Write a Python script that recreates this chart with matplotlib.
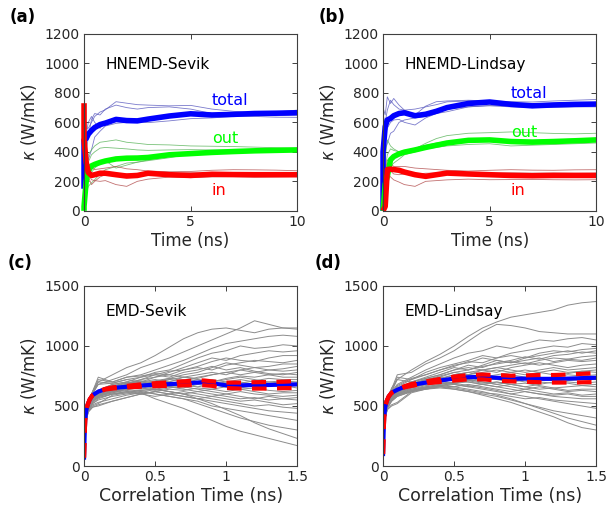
import matplotlib
matplotlib.use("Agg")
import matplotlib.pyplot as plt

plt.rcParams['font.family'] = ['DejaVu Sans']

# ---------------- HNEMD data (time in ns, kappa in W/mK) ----------------
# the repeated 0 gives the vertical jump right at the start
t_h = [0, 0, 0.1, 0.2, 0.35, 0.5, 0.75, 1.0, 1.5, 2.0, 2.5, 3.0, 4.0, 5.0, 6.0, 7.0, 8.0, 9.0, 10.0]

# (a) HNEMD-Sevik, averages
sevik_total = [150, 480, 490, 520, 545, 565, 585, 595, 620, 612, 610, 622, 643, 658, 650, 654, 660, 662, 665]
sevik_out = [0, 30, 200, 270, 305, 315, 328, 338, 352, 357, 358, 362, 380, 388, 396, 402, 407, 410, 413]
sevik_in = [730, 480, 330, 260, 240, 245, 255, 255, 245, 236, 240, 255, 245, 240, 248, 246, 245, 245, 245]

# (a) individual runs
sevik_total_runs = [
    [950, 700, 560, 560, 600, 640, 670, 685, 740, 730, 720, 717, 712, 715, 690, 675, 665, 670, 683],
    [600, 480, 400, 500, 620, 660, 650, 690, 717, 700, 690, 700, 705, 690, 660, 650, 648, 645, 650],
    [350, 450, 460, 346, 414, 500, 540, 575, 593, 600, 605, 598, 610, 625, 630, 640, 640, 635, 634],
    [500, 550, 520, 600, 640, 600, 560, 600, 615, 610, 615, 625, 640, 650, 655, 660, 665, 668, 670],
]
sevik_out_runs = [
    [0, 200, 300, 380, 413, 440, 465, 470, 481, 465, 458, 450, 447, 440, 438, 436, 432, 428, 425],
    [0, 150, 250, 330, 380, 400, 425, 430, 425, 420, 413, 410, 413, 415, 413, 412, 415, 416, 415],
    [0, 80, 120, 166, 190, 211, 250, 279, 301, 324, 330, 340, 360, 386, 393, 398, 402, 405, 408],
    [0, 100, 180, 230, 260, 290, 320, 340, 290, 310, 330, 345, 370, 385, 390, 395, 398, 400, 405],
]
sevik_in_runs = [
    [1200, 600, 380, 250, 211, 205, 200, 205, 178, 166, 200, 215, 229, 225, 230, 232, 228, 230, 232],
    [900, 500, 350, 320, 300, 280, 285, 290, 301, 285, 279, 270, 265, 267, 275, 279, 278, 276, 272],
    [800, 400, 300, 230, 178, 200, 230, 245, 255, 250, 252, 254, 256, 258, 255, 258, 260, 258, 258],
]

# (b) HNEMD-Lindsay, averages
lindsay_total = [0, 400, 571, 616, 627, 645, 660, 665, 645, 655, 675, 700, 728, 738, 722, 712, 718, 722, 724]
lindsay_out = [0, 0, 180, 234, 346, 368, 386, 398, 413, 430, 445, 460, 478, 481, 470, 466, 470, 475, 481]
lindsay_in = [0, 0, 30, 280, 283, 280, 275, 263, 245, 234, 245, 256, 250, 245, 240, 238, 240, 240, 240]

# (b) individual runs
lindsay_total_runs = [
    [1100, 700, 650, 773, 728, 762, 717, 683, 650, 710, 740, 745, 750, 745, 740, 738, 745, 750, 755],
    [600, 500, 420, 458, 526, 540, 600, 616, 630, 640, 660, 672, 705, 715, 712, 715, 712, 712, 715],
    [800, 650, 600, 683, 750, 720, 690, 683, 690, 705, 720, 739, 745, 740, 732, 728, 728, 725, 728],
    [400, 500, 520, 560, 600, 616, 620, 600, 582, 630, 660, 690, 705, 712, 705, 700, 702, 705, 705],
]
lindsay_out_runs = [
    [0, 200, 350, 481, 440, 420, 400, 410, 420, 458, 490, 510, 526, 530, 535, 530, 525, 522, 526],
    [0, 150, 200, 256, 300, 324, 350, 380, 400, 420, 430, 440, 450, 455, 440, 445, 450, 455, 460],
    [0, 180, 280, 380, 420, 410, 400, 405, 425, 445, 460, 470, 480, 485, 480, 478, 482, 486, 490],
]
lindsay_in_runs = [
    [0, 100, 250, 346, 320, 301, 300, 301, 290, 285, 280, 275, 270, 275, 279, 276, 275, 278, 279],
    [0, 100, 200, 250, 230, 210, 195, 178, 166, 200, 205, 210, 215, 211, 212, 213, 211, 210, 211],
    [0, 120, 220, 300, 270, 250, 245, 250, 248, 255, 256, 258, 256, 255, 258, 256, 257, 255, 256],
]

# ---------------- EMD data (correlation time in ns) ----------------
t_e = [0, 0.01, 0.03, 0.06, 0.1, 0.2, 0.3, 0.4, 0.5, 0.6, 0.7, 0.8, 0.9, 1.0, 1.1, 1.2, 1.3, 1.4, 1.5]
t_m = [0, 0.004, 0.008, 0.015, 0.025, 0.04, 0.06, 0.1, 0.15, 0.2, 0.3, 0.4, 0.5, 0.6, 0.7, 0.8,
       0.85, 0.9, 1.0, 1.1, 1.2, 1.3, 1.4, 1.5]

sevik_emd_mean = [70, 250, 380, 460, 510, 555, 590, 620, 640, 650, 660, 670, 678, 682, 688, 695,
                  698, 690, 672, 672, 675, 675, 678, 680]
sevik_emd_upper = [70, 250, 380, 460, 510, 555, 590, 622, 643, 655, 668, 680, 690, 697, 705, 715,
                   712, 705, 695, 695, 698, 700, 702, 708]
sevik_emd_lower = [70, 250, 380, 460, 510, 555, 590, 618, 637, 645, 655, 660, 665, 668, 672, 675,
                   672, 668, 650, 645, 645, 645, 648, 650]

lindsay_emd_mean = [100, 280, 410, 490, 540, 580, 610, 635, 660, 675, 695, 712, 728, 740, 742, 735,
                    732, 728, 728, 726, 726, 728, 732, 735]
lindsay_emd_upper = [100, 280, 410, 490, 540, 580, 610, 640, 665, 683, 705, 725, 745, 758, 762, 758,
                     755, 752, 755, 758, 758, 762, 768, 775]
lindsay_emd_lower = [100, 280, 410, 490, 540, 580, 610, 630, 655, 667, 688, 700, 712, 722, 722, 712,
                     708, 705, 702, 698, 695, 695, 697, 700]

sevik_emd_runs = [
    [0, 420, 540, 620, 700, 760, 820, 860, 920, 990, 1060, 1110, 1140, 1150, 1130, 1110, 1140, 1150, 1150],
    [0, 400, 520, 600, 680, 720, 760, 820, 860, 900, 950, 1000, 1050, 1100, 1150, 1210, 1180, 1150, 1140],
    [0, 410, 530, 620, 720, 700, 740, 760, 800, 840, 880, 930, 980, 1020, 1040, 1060, 1080, 1090, 1080],
    [0, 390, 510, 580, 630, 680, 700, 740, 780, 800, 850, 900, 940, 960, 1000, 980, 990, 1010, 1000],
    [0, 400, 520, 610, 680, 690, 720, 700, 740, 780, 820, 860, 900, 880, 920, 940, 960, 950, 960],
    [0, 380, 500, 560, 600, 650, 680, 720, 760, 790, 800, 830, 870, 900, 880, 870, 900, 920, 920],
    [0, 400, 520, 620, 740, 700, 740, 750, 770, 760, 800, 820, 800, 840, 860, 880, 870, 860, 880],
    [0, 390, 500, 570, 610, 660, 700, 680, 700, 730, 760, 780, 820, 860, 840, 820, 830, 850, 850],
    [0, 370, 490, 550, 590, 640, 660, 700, 720, 700, 740, 760, 780, 760, 800, 820, 800, 810, 830],
    [0, 380, 510, 580, 630, 670, 690, 710, 690, 720, 700, 740, 760, 780, 760, 780, 800, 790, 800],
    [0, 400, 520, 600, 700, 690, 720, 740, 760, 740, 780, 800, 830, 800, 820, 790, 770, 760, 780],
    [0, 370, 480, 540, 580, 630, 650, 660, 690, 700, 690, 720, 700, 730, 750, 740, 760, 770, 760],
    [0, 390, 510, 570, 610, 640, 660, 680, 700, 720, 740, 730, 760, 780, 800, 780, 760, 740, 740],
    [0, 380, 500, 560, 600, 660, 680, 700, 680, 660, 680, 700, 720, 700, 690, 710, 730, 720, 720],
    [0, 360, 460, 500, 520, 590, 610, 630, 640, 660, 650, 680, 660, 690, 700, 680, 700, 710, 700],
    [0, 380, 500, 570, 620, 660, 690, 720, 740, 760, 740, 720, 700, 720, 740, 720, 700, 690, 690],
    [0, 370, 490, 550, 590, 620, 640, 650, 630, 650, 670, 660, 680, 660, 650, 670, 680, 660, 670],
    [0, 390, 510, 580, 630, 680, 700, 690, 710, 730, 720, 700, 680, 700, 720, 700, 680, 670, 650],
    [0, 360, 470, 520, 560, 600, 620, 600, 620, 640, 630, 650, 640, 620, 640, 650, 630, 620, 630],
    [0, 370, 480, 540, 580, 610, 640, 660, 680, 660, 640, 620, 640, 660, 640, 620, 600, 610, 610],
    [0, 380, 500, 560, 600, 630, 650, 640, 660, 680, 660, 640, 620, 600, 620, 600, 590, 580, 590],
    [0, 350, 450, 490, 500, 540, 570, 600, 580, 600, 620, 600, 580, 600, 580, 560, 580, 560, 570],
    [0, 370, 480, 540, 570, 600, 620, 630, 640, 620, 600, 620, 600, 580, 560, 570, 550, 560, 550],
    [0, 360, 470, 530, 570, 600, 610, 600, 620, 600, 580, 560, 580, 560, 540, 550, 530, 510, 520],
    [0, 380, 490, 550, 590, 620, 640, 660, 640, 620, 600, 580, 560, 540, 520, 500, 510, 490, 480],
    [0, 360, 450, 490, 510, 540, 570, 600, 620, 600, 580, 560, 540, 520, 500, 480, 460, 450, 440],
    [0, 370, 480, 540, 580, 620, 640, 620, 600, 580, 560, 540, 500, 480, 460, 440, 420, 400, 380],
    [0, 360, 470, 520, 550, 580, 600, 620, 600, 580, 560, 520, 480, 440, 400, 370, 340, 320, 300],
    [0, 350, 460, 510, 530, 560, 590, 610, 640, 620, 600, 560, 520, 470, 420, 360, 310, 270, 230],
    [0, 370, 480, 540, 580, 610, 630, 610, 560, 520, 480, 430, 380, 330, 290, 260, 230, 200, 170],
]

lindsay_emd_runs = [
    [0, 450, 560, 650, 720, 800, 870, 930, 1000, 1080, 1150, 1200, 1240, 1260, 1280, 1300, 1340, 1360, 1370],
    [0, 440, 550, 640, 760, 780, 850, 900, 960, 1040, 1120, 1180, 1170, 1150, 1120, 1110, 1100, 1100, 1100],
    [0, 430, 540, 620, 680, 740, 800, 850, 900, 940, 960, 1000, 980, 1020, 1050, 1040, 1060, 1070, 1050],
    [0, 420, 530, 620, 740, 720, 780, 820, 850, 880, 920, 900, 940, 960, 980, 1000, 990, 1020, 1010],
    [0, 430, 540, 610, 670, 730, 760, 800, 830, 870, 860, 900, 920, 900, 940, 960, 950, 970, 980],
    [0, 410, 520, 590, 640, 700, 740, 780, 820, 800, 840, 880, 860, 900, 920, 940, 960, 940, 960],
    [0, 420, 530, 620, 720, 700, 730, 760, 800, 840, 820, 860, 880, 910, 890, 920, 930, 950, 940],
    [0, 400, 510, 580, 630, 680, 720, 740, 780, 800, 830, 850, 870, 850, 880, 900, 890, 910, 920],
    [0, 430, 540, 610, 660, 720, 760, 800, 840, 860, 900, 880, 860, 880, 900, 870, 890, 880, 900],
    [0, 410, 520, 590, 640, 690, 720, 750, 780, 760, 800, 820, 840, 860, 840, 860, 880, 870, 880],
    [0, 420, 530, 600, 650, 700, 730, 760, 800, 820, 800, 780, 820, 840, 860, 840, 820, 840, 850],
    [0, 400, 510, 570, 620, 670, 700, 720, 760, 780, 800, 820, 800, 780, 800, 820, 800, 810, 820],
    [0, 410, 520, 590, 640, 680, 710, 740, 720, 760, 780, 800, 780, 760, 780, 800, 780, 790, 800],
    [0, 400, 500, 560, 610, 660, 690, 720, 740, 720, 740, 760, 780, 800, 780, 760, 770, 790, 780],
    [0, 410, 520, 580, 630, 670, 700, 730, 760, 780, 760, 740, 760, 740, 720, 740, 760, 750, 760],
    [0, 390, 500, 560, 600, 650, 680, 700, 720, 740, 760, 740, 720, 700, 720, 740, 720, 730, 740],
    [0, 400, 510, 570, 620, 660, 680, 700, 690, 710, 730, 720, 700, 720, 700, 690, 710, 720, 720],
    [0, 390, 490, 550, 600, 640, 660, 680, 700, 720, 700, 680, 700, 720, 740, 720, 700, 690, 700],
    [0, 410, 520, 580, 620, 660, 690, 710, 730, 710, 690, 700, 680, 660, 680, 700, 690, 670, 680],
    [0, 380, 490, 550, 590, 630, 650, 670, 690, 700, 680, 660, 680, 690, 670, 650, 660, 670, 660],
    [0, 400, 500, 560, 600, 640, 670, 690, 680, 660, 680, 700, 680, 660, 640, 650, 630, 640, 640],
    [0, 390, 490, 550, 590, 630, 660, 680, 700, 720, 700, 680, 660, 640, 660, 640, 620, 630, 620],
    [0, 380, 470, 510, 530, 620, 650, 670, 660, 680, 660, 640, 620, 640, 620, 600, 610, 590, 600],
    [0, 400, 500, 560, 610, 650, 680, 700, 720, 700, 680, 660, 640, 620, 600, 590, 600, 580, 580],
    [0, 390, 490, 550, 590, 630, 650, 660, 680, 660, 640, 620, 600, 620, 600, 580, 570, 560, 560],
    [0, 380, 470, 500, 520, 610, 640, 660, 650, 630, 610, 600, 580, 560, 570, 550, 540, 530, 520],
    [0, 390, 490, 550, 590, 630, 650, 670, 690, 670, 650, 630, 600, 580, 560, 540, 520, 500, 480],
    [0, 380, 480, 540, 580, 620, 640, 660, 640, 620, 600, 580, 550, 520, 490, 460, 440, 420, 400],
    [0, 390, 490, 550, 590, 620, 650, 670, 660, 640, 620, 590, 560, 520, 480, 440, 400, 370, 340],
    [0, 380, 480, 540, 580, 620, 640, 650, 640, 620, 590, 560, 530, 490, 450, 410, 360, 320, 300],
]

AX_COLOR = '#404040'
TXT_COLOR = '#262626'
BLUE, GREEN, RED = (0, 0, 1), (0, 1, 0), (1, 0, 0)
THIN_BLUE, THIN_GREEN, THIN_RED = (0.35, 0.35, 0.75), (0.35, 0.7, 0.35), (0.7, 0.3, 0.3)


def style_axes(ax):
    for s in ax.spines.values():
        s.set_color(AX_COLOR)
        s.set_linewidth(0.8)
    ax.tick_params(direction='in', top=True, right=True, length=3.5, width=0.7,
                   color=AX_COLOR, labelcolor=TXT_COLOR, labelsize=10, pad=3)
    ax.set_ylabel(r'$\kappa$ (W/mK)', fontsize=12, color=TXT_COLOR, labelpad=4)


def hnemd_panel(ax, title, total, out, inp, total_runs, out_runs, in_runs, ytot, yout):
    for r in total_runs:
        ax.plot(t_h, r, color=THIN_BLUE, lw=0.6, alpha=0.8)
    for r in out_runs:
        ax.plot(t_h, r, color=THIN_GREEN, lw=0.6, alpha=0.8)
    for r in in_runs:
        ax.plot(t_h, r, color=THIN_RED, lw=0.6, alpha=0.8)
    # thick averages are not clipped, so the jump at t=0 straddles the axis line
    for y, c in [(total, BLUE), (out, GREEN), (inp, RED)]:
        ax.plot(t_h, y, color=c, lw=4, clip_on=False, solid_capstyle='butt')
    ax.set_xlim(0, 10)
    ax.set_ylim(0, 1200)
    ax.set_xticks([0, 5, 10])
    ax.set_yticks(range(0, 1201, 200))
    ax.set_xlabel('Time (ns)', fontsize=12, color=TXT_COLOR, labelpad=2)
    ax.text(1.0, 990, title, fontsize=11, color='k', va='center')
    ax.text(6.0, ytot, 'total', fontsize=11.5, color=BLUE, va='center')
    ax.text(6.0, yout, 'out', fontsize=11.5, color=GREEN, va='center')
    ax.text(6.0, 140, 'in', fontsize=11.5, color=RED, va='center')
    style_axes(ax)


def emd_panel(ax, title, runs, mean, upper, lower):
    for r in runs:
        ax.plot(t_e, r, color=(0.55, 0.55, 0.55), lw=0.7)
    ax.plot(t_m, mean, color=BLUE, lw=3)
    ax.plot(t_m, upper, color=RED, lw=3, ls=(0, (3.5, 2.5)))
    ax.plot(t_m, lower, color=RED, lw=3, ls=(0, (3.5, 2.5)))
    ax.set_xlim(0, 1.5)
    ax.set_ylim(0, 1500)
    ax.set_xticks([0, 0.5, 1, 1.5])
    ax.set_xticklabels(['0', '0.5', '1', '1.5'])
    ax.set_yticks([0, 500, 1000, 1500])
    ax.set_xlabel('Correlation Time (ns)', fontsize=12.5, color=TXT_COLOR, labelpad=2)
    ax.text(0.15, 1290, title, fontsize=11, color='k', va='center')
    style_axes(ax)


fig = plt.figure(figsize=(6.09, 5.13), dpi=100)
ax_a = fig.add_axes([0.138, 0.589, 0.350, 0.345])
ax_b = fig.add_axes([0.629, 0.589, 0.350, 0.345])
ax_c = fig.add_axes([0.138, 0.0916, 0.350, 0.351])
ax_d = fig.add_axes([0.629, 0.0916, 0.350, 0.351])

hnemd_panel(ax_a, 'HNEMD-Sevik', sevik_total, sevik_out, sevik_in,
            sevik_total_runs, sevik_out_runs, sevik_in_runs, 745, 488)
hnemd_panel(ax_b, 'HNEMD-Lindsay', lindsay_total, lindsay_out, lindsay_in,
            lindsay_total_runs, lindsay_out_runs, lindsay_in_runs, 793, 529)
emd_panel(ax_c, 'EMD-Sevik', sevik_emd_runs, sevik_emd_mean, sevik_emd_upper, sevik_emd_lower)
emd_panel(ax_d, 'EMD-Lindsay', lindsay_emd_runs, lindsay_emd_mean, lindsay_emd_upper, lindsay_emd_lower)

for lab, x, y in [('(a)', 10, 17), ('(b)', 319, 17), ('(c)', 8, 263), ('(d)', 315, 263)]:
    fig.text(x / 609, 1 - y / 513, lab, fontsize=12, fontweight='bold', va='center', ha='left')

fig.savefig('out.png', dpi=100)
